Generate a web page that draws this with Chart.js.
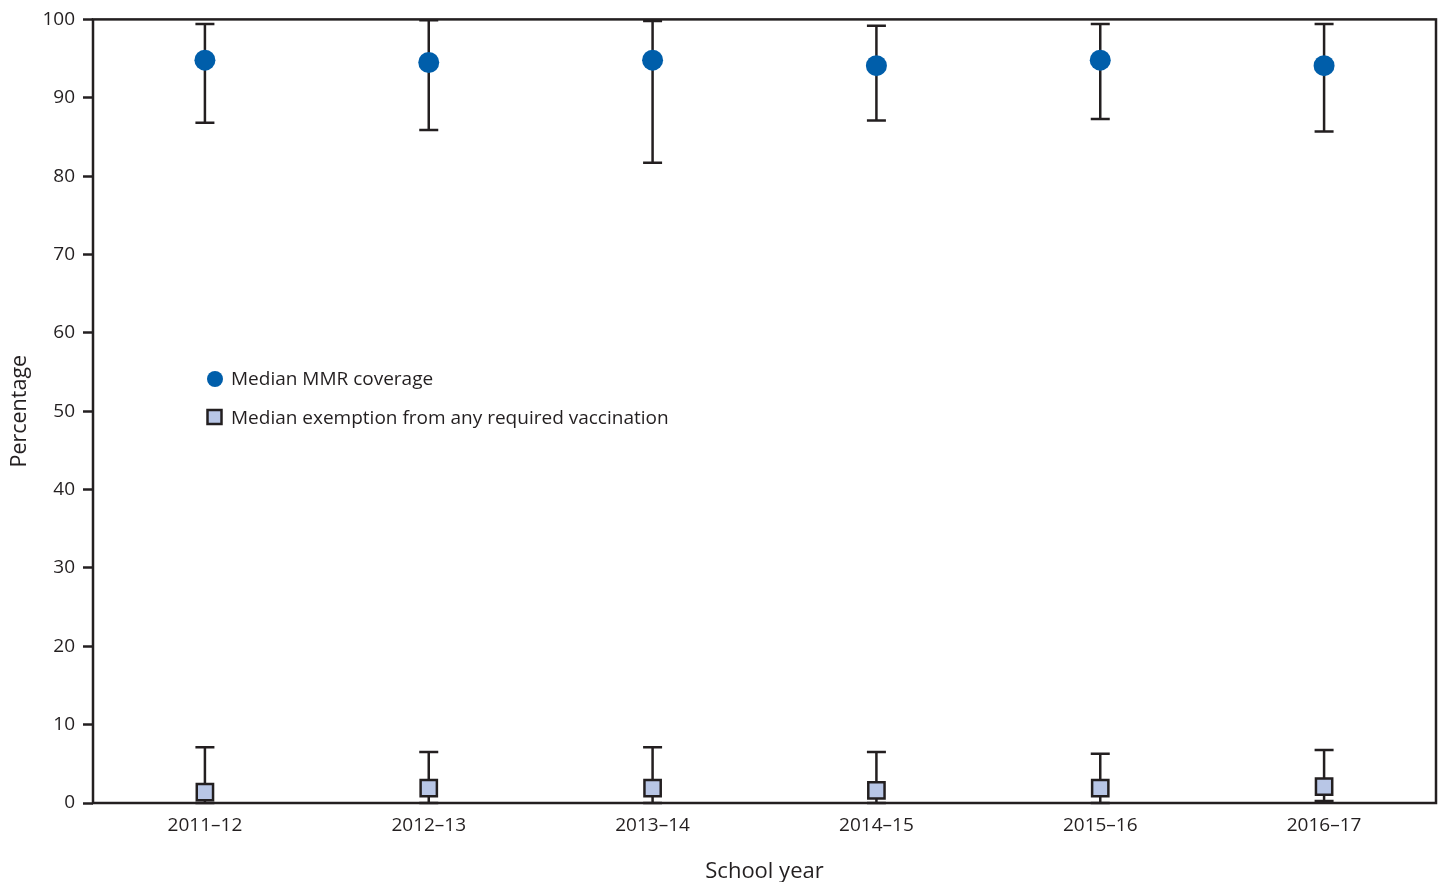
<!DOCTYPE html>
<html>
<head>
<meta charset="utf-8">
<script src="https://cdn.jsdelivr.net/npm/chart.js@4.4.0/dist/chart.umd.min.js"></script>
<style>
  html, body { margin: 0; padding: 0; background: #fff; }
  #wrap { width: 1442px; height: 882px; position: relative; }
</style>
</head>
<body>
<div id="wrap"><canvas id="c" width="1442" height="882"></canvas></div>
<script>
const categories = ["2011–12", "2012–13", "2013–14", "2014–15", "2015–16", "2016–17"];
const mmrMedian = [94.8, 94.5, 94.8, 94.1, 94.8, 94.1];
const mmrLow    = [86.8, 85.9, 81.7, 87.1, 87.3, 85.7];
const mmrHigh   = [99.4, 99.9, 99.8, 99.2, 99.4, 99.4];
const exMedian  = [1.4, 1.9, 1.9, 1.6, 1.9, 2.1];
const exLow     = [0.0, 0.0, 0.0, 0.0, 0.0, 0.25];
const exHigh    = [7.1, 6.5, 7.1, 6.5, 6.3, 6.75];
const yTicks    = [0, 10, 20, 30, 40, 50, 60, 70, 80, 90, 100];
const legendLabels = ["Median MMR coverage", "Median exemption from any required vaccination"];

const INK = "#231f20";
const BLUE = "#005eaa";
const LIGHT = "#b8c6e6";
const FONT = "'Open Sans', 'Noto Sans', sans-serif";

const errorBars = {
  id: "errorBars",
  beforeDatasetsDraw(chart) {
    const ctx = chart.ctx, xs = chart.scales.x, ys = chart.scales.y;
    const sets = [[mmrLow, mmrHigh], [exLow, exHigh]];
    ctx.save();
    ctx.strokeStyle = INK;
    ctx.lineWidth = 2.5;
    ctx.lineCap = "butt";
    sets.forEach(([lo, hi]) => {
      categories.forEach((c, i) => {
        const x = xs.getPixelForValue(i);
        const yl = ys.getPixelForValue(lo[i]);
        const yh = ys.getPixelForValue(hi[i]);
        ctx.beginPath();
        ctx.moveTo(x, yl); ctx.lineTo(x, yh);
        ctx.moveTo(x - 9.5, yl); ctx.lineTo(x + 9.5, yl);
        ctx.moveTo(x - 9.5, yh); ctx.lineTo(x + 9.5, yh);
        ctx.stroke();
      });
    });
    ctx.restore();
  }
};

const frame = {
  id: "frame",
  afterDatasetsDraw(chart) {
    const ctx = chart.ctx, a = chart.chartArea;
    ctx.save();
    ctx.strokeStyle = INK;
    ctx.lineWidth = 2.5;
    ctx.strokeRect(a.left, a.top, a.right - a.left, a.bottom - a.top);
    ctx.restore();
  }
};

const innerLegend = {
  id: "innerLegend",
  afterDraw(chart) {
    const ctx = chart.ctx;
    ctx.save();
    ctx.font = "19px " + FONT;
    ctx.textBaseline = "middle";
    ctx.beginPath();
    ctx.fillStyle = BLUE;
    ctx.arc(215, 379, 8, 0, Math.PI * 2);
    ctx.fill();
    ctx.fillStyle = LIGHT;
    ctx.strokeStyle = INK;
    ctx.lineWidth = 2.5;
    ctx.fillRect(207.5, 410, 14, 14);
    ctx.strokeRect(207.5, 410, 14, 14);
    ctx.fillStyle = INK;
    ctx.fillText(legendLabels[0], 231, 380);
    ctx.fillText(legendLabels[1], 231, 419);
    ctx.restore();
  }
};

new Chart(document.getElementById("c"), {
  type: "line",
  data: {
    labels: categories,
    datasets: [
      {
        label: legendLabels[0],
        data: mmrMedian,
        showLine: false,
        pointStyle: "circle",
        pointRadius: 10.5,
        pointBackgroundColor: BLUE,
        pointBorderColor: BLUE,
        pointBorderWidth: 0
      },
      {
        label: legendLabels[1],
        data: exMedian,
        showLine: false,
        pointStyle: "rect",
        pointRadius: 11.5,
        pointBackgroundColor: LIGHT,
        pointBorderColor: INK,
        pointBorderWidth: 2.5
      }
    ]
  },
  options: {
    responsive: false,
    animation: false,
    layout: { autoPadding: false, padding: { top: 19, right: 6, left: 0, bottom: 0 } },
    plugins: { legend: { display: false }, tooltip: { enabled: false } },
    scales: {
      x: {
        type: "category",
        offset: true,
        grid: { display: false, drawTicks: false },
        border: { display: false },
        ticks: { color: INK, font: { family: FONT, size: 19 }, padding: 11, maxRotation: 0 },
        title: { display: true, text: "School year", color: INK, font: { family: FONT, size: 22 }, padding: { top: 20, bottom: -3 } },
        afterFit(s) { s.height = 79; }
      },
      y: {
        min: 0, max: 100,
        afterBuildTicks(s) { s.ticks = yTicks.map(v => ({ value: v })); },
        grid: { drawOnChartArea: false, drawTicks: true, tickLength: 10, tickWidth: 2.5, tickColor: INK },
        border: { display: false },
        ticks: { color: INK, font: { family: FONT, size: 19 }, padding: 8 },
        title: { display: true, text: "Percentage", color: INK, font: { family: FONT, size: 21.5 }, padding: { bottom: 0, top: 7 } },
        afterFit(s) { s.width = 93; }
      }
    }
  },
  plugins: [errorBars, frame, innerLegend]
});
</script>
</body>
</html>
